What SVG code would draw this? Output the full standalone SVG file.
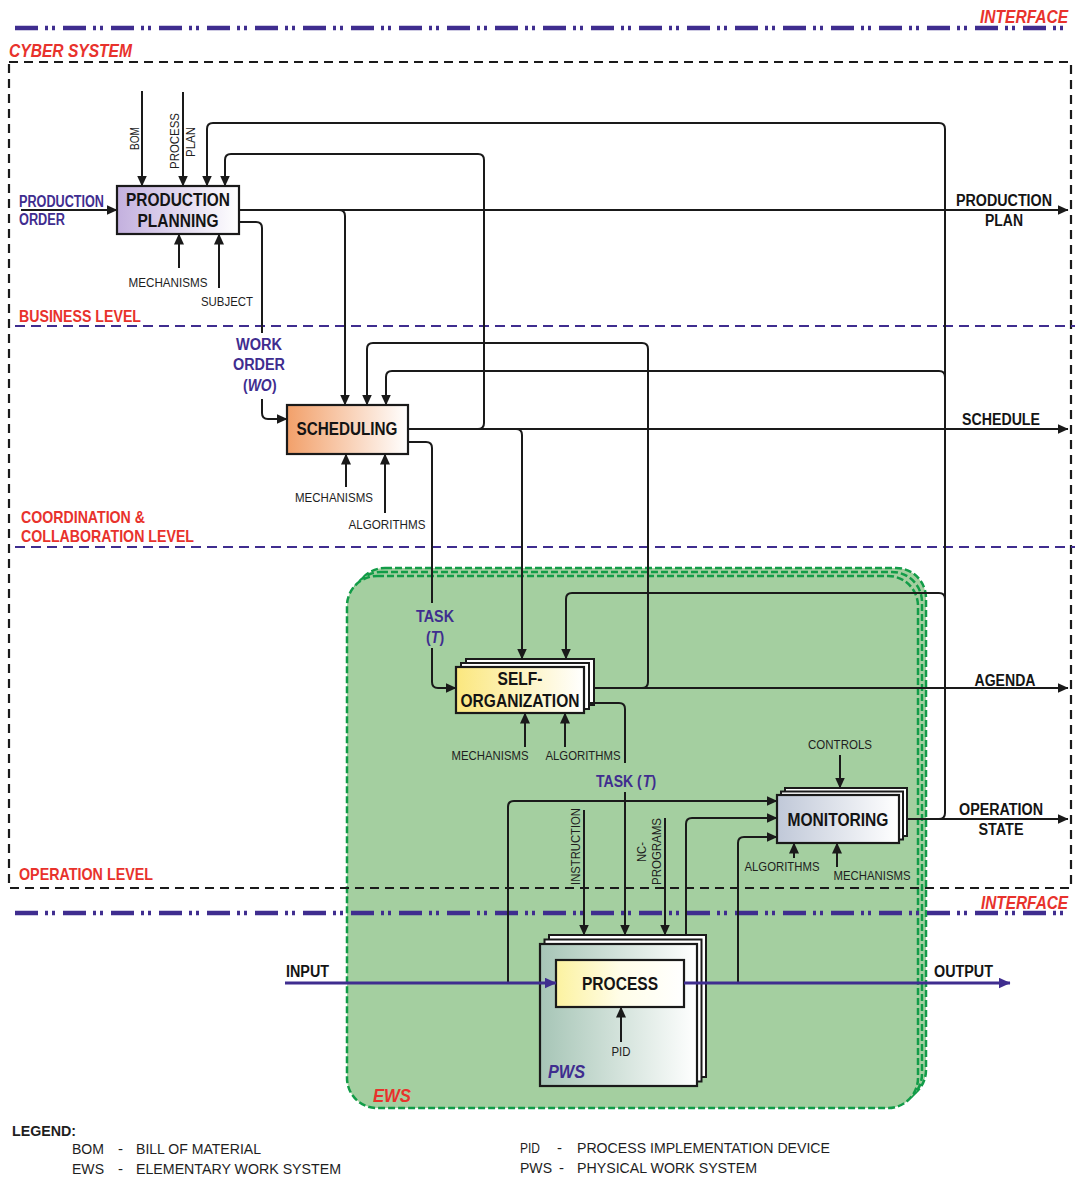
<svg xmlns="http://www.w3.org/2000/svg" width="1078" height="1177" viewBox="0 0 1078 1177">
<defs>
<linearGradient id="gPP" x1="0" x2="1" y1="0" y2="0"><stop offset="0" stop-color="#c3b0de"/><stop offset="1" stop-color="#ffffff"/></linearGradient>
<linearGradient id="gSC" x1="0" x2="1" y1="0" y2="0"><stop offset="0" stop-color="#f2a06a"/><stop offset="1" stop-color="#ffffff"/></linearGradient>
<linearGradient id="gSO" x1="0" x2="1" y1="0" y2="0"><stop offset="0" stop-color="#fbe77e"/><stop offset="1" stop-color="#ffffff"/></linearGradient>
<linearGradient id="gMO" x1="0" x2="1" y1="0" y2="0"><stop offset="0" stop-color="#c0c8d8"/><stop offset="1" stop-color="#ffffff"/></linearGradient>
<linearGradient id="gPW" x1="0" x2="1" y1="0" y2="0"><stop offset="0" stop-color="#a6c5b6"/><stop offset="1" stop-color="#ffffff"/></linearGradient>
<linearGradient id="gPR" x1="0" x2="1" y1="0" y2="0"><stop offset="0" stop-color="#fcf2a0"/><stop offset="0.5" stop-color="#fffde8"/><stop offset="1" stop-color="#ffffff"/></linearGradient>
<marker id="ah" markerUnits="userSpaceOnUse" markerWidth="11" markerHeight="10" viewBox="0 0 11 10" refX="10.5" refY="5" orient="auto"><path d="M0,0 L11,5 L0,10 Z" fill="#1a1a1a"/></marker>
<marker id="ahp" markerUnits="userSpaceOnUse" markerWidth="12" markerHeight="11" viewBox="0 0 12 11" refX="11.5" refY="5.5" orient="auto"><path d="M0,0 L12,5.5 L0,11 Z" fill="#3f2d8f"/></marker>
<style>
text{font-family:"Liberation Sans",Arial,Helvetica,sans-serif}
.bx{font-size:18px;font-weight:bold;fill:#141414}
.ol{font-size:16px;font-weight:bold;fill:#141414}
.sm{font-size:13px;fill:#1e1e1e}
.pu{font-size:16px;font-weight:bold;fill:#3f2d8f}
.it{font-style:italic}
.rd{font-weight:bold;fill:#e8322c}
.ri{font-style:italic;font-size:19px}
.lv{font-size:17px}
.lg{font-size:15px;fill:#1e1e1e}
.lgb{font-size:15px;font-weight:bold;fill:#1e1e1e}
.c{fill:none;stroke:#1a1a1a;stroke-width:2}
.ca{marker-end:url(#ah)}
.cp{fill:none;stroke:#3f2d8f;stroke-width:3;marker-end:url(#ahp)}
.nb{stroke:#1a1a1a;stroke-width:2.2}
.ly{fill:#fff;stroke:#1a1a1a;stroke-width:2}
.ews{fill:#a4cfa0;stroke:#129c48;stroke-width:2.5;stroke-dasharray:7 3}
.ifl{fill:none;stroke:#3f2d8f;stroke-width:4.5;stroke-dasharray:23 7 3 4 3 8}
.lvl{fill:none;stroke:#3f2d8f;stroke-width:2;stroke-dasharray:10 6}
.cyb{fill:none;stroke:#1a1a1a;stroke-width:2.2;stroke-dasharray:9 6}
</style>
</defs>

<!-- EWS container -->
<g id="ews">
<rect class="ews" x="355" y="568" width="571" height="532" rx="30"/>
<rect class="ews" x="351" y="572" width="571" height="532" rx="30"/>
<rect class="ews" x="347" y="576" width="571" height="532" rx="30"/>
</g>

<!-- system frames and level lines -->
<g id="frames">
<path class="ifl" d="M15,28 H1070"/>
<path class="ifl" d="M15,913 H1070"/>
<rect class="cyb" x="9" y="62" width="1062" height="826"/>
<path class="lvl" d="M15,326 H1075"/>
<path class="lvl" d="M15,547 H1075"/>
</g>

<!-- nodes -->
<g id="production-planning">
<rect class="nb" x="117" y="186" width="122" height="48" fill="url(#gPP)"/>
<text class="bx" x="178" y="206" text-anchor="middle" textLength="104" lengthAdjust="spacingAndGlyphs">PRODUCTION</text>
<text class="bx" x="178" y="227" text-anchor="middle" textLength="81" lengthAdjust="spacingAndGlyphs">PLANNING</text>
</g>

<g id="scheduling">
<rect class="nb" x="287" y="405" width="121" height="49" fill="url(#gSC)"/>
<text class="bx" x="347" y="435" text-anchor="middle" textLength="101" lengthAdjust="spacingAndGlyphs">SCHEDULING</text>
</g>

<g id="self-organization">
<rect class="ly" x="466" y="659" width="128" height="46"/>
<rect class="ly" x="461" y="663" width="128" height="46"/>
<rect class="nb" x="456" y="667" width="128" height="46" fill="url(#gSO)"/>
<text class="bx" x="520" y="685" text-anchor="middle" textLength="45" lengthAdjust="spacingAndGlyphs">SELF-</text>
<text class="bx" x="520" y="707" text-anchor="middle" textLength="119" lengthAdjust="spacingAndGlyphs">ORGANIZATION</text>
</g>

<g id="monitoring">
<rect class="ly" x="785" y="788" width="122" height="48"/>
<rect class="ly" x="781" y="791.5" width="122" height="48"/>
<rect class="nb" x="777" y="795" width="122" height="48" fill="url(#gMO)"/>
<text class="bx" x="838" y="826" text-anchor="middle" textLength="101" lengthAdjust="spacingAndGlyphs">MONITORING</text>
</g>

<g id="pws">
<rect class="ly" x="549" y="935" width="157" height="142"/>
<rect class="ly" x="544.5" y="939.5" width="157" height="142"/>
<rect class="nb" x="540" y="944" width="157" height="142" fill="url(#gPW)"/>
<text class="pu it" x="548" y="1078" style="font-size:18px" textLength="37" lengthAdjust="spacingAndGlyphs">PWS</text>
</g>

<g id="process">
<rect class="nb" x="556" y="960" width="128" height="47" fill="url(#gPR)"/>
<text class="bx" x="620" y="990" text-anchor="middle" textLength="76" lengthAdjust="spacingAndGlyphs">PROCESS</text>
</g>

<!-- connectors -->
<g id="connectors">
<path class="c ca" d="M142,91 V186"/>
<path class="c ca" d="M183,92 V186"/>
<path class="c ca" d="M21,210 H117"/>
<path class="c ca" d="M179,268 V234"/>
<path class="c ca" d="M219,288 V234"/>
<path class="c ca" d="M239,210 H1068"/>
<path class="c ca" d="M339,210 Q345,210 345,216 V405"/>
<path class="c" d="M239,222 H256 Q262,222 262,228 V333"/>
<path class="c ca" d="M262,399 V413 Q262,419 268,419 H287"/>
<path class="c ca" d="M907,819 H1068"/>
<path class="c ca" d="M939,819 Q945,819 945,813 V129 Q945,123 939,123 H213 Q207,123 207,129 V186"/>
<path class="c ca" d="M945,377 Q945,371 939,371 H392 Q386,371 386,377 V405"/>
<path class="c ca" d="M945,599 Q945,593 939,593 H572 Q566,593 566,599 V659"/>
<path class="c ca" d="M408,429 H1068"/>
<path class="c ca" d="M478,429 Q484,429 484,423 V160 Q484,154 478,154 H231 Q225,154 225,160 V186"/>
<path class="c ca" d="M516,429 Q522,429 522,435 V659"/>
<path class="c" d="M408,442 H426 Q432,442 432,448 V603"/>
<path class="c ca" d="M432,648 V682 Q432,688 438,688 H456"/>
<path class="c ca" d="M346,487 V454"/>
<path class="c ca" d="M385,513 V454"/>
<path class="c ca" d="M594,688 H1068"/>
<path class="c ca" d="M642,688 Q648,688 648,682 V349 Q648,343 642,343 H373 Q367,343 367,349 V405"/>
<path class="c" d="M589,703 H619 Q625,703 625,709 V763"/>
<path class="c ca" d="M625,792 V935"/>
<path class="c ca" d="M525,747 V713"/>
<path class="c ca" d="M565,747 V713"/>
<path class="c ca" d="M840,755 V788"/>
<path class="c ca" d="M794,858 V843"/>
<path class="c ca" d="M837,867 V843"/>
<path class="c ca" d="M508,983 V807 Q508,801 514,801 H777"/>
<path class="c ca" d="M686,935 V824 Q686,818 692,818 H777"/>
<path class="c ca" d="M738,983 V843 Q738,837 744,837 H777"/>
<path class="c ca" d="M584,810 V935"/>
<path class="c ca" d="M665,818 V935"/>
<path class="c ca" d="M621,1042 V1007"/>
<path class="cp" d="M285,983 H556"/>
<path class="cp" d="M684,983 H1010"/>
</g>

<!-- labels -->
<g id="labels">
<text class="rd ri" transform="translate(980,23) scale(0.82,1)">INTERFACE</text>
<text class="rd ri" x="9" y="57" textLength="123" lengthAdjust="spacingAndGlyphs">CYBER SYSTEM</text>
<text class="rd ri" transform="translate(981,909) scale(0.81,1)">INTERFACE</text>
<text class="rd lv" x="19" y="322" textLength="122" lengthAdjust="spacingAndGlyphs">BUSINESS LEVEL</text>
<text class="rd lv" x="21" y="523" textLength="124" lengthAdjust="spacingAndGlyphs">COORDINATION &amp;</text>
<text class="rd lv" x="21" y="542" textLength="173" lengthAdjust="spacingAndGlyphs">COLLABORATION LEVEL</text>
<text class="rd lv" x="19" y="880" textLength="134" lengthAdjust="spacingAndGlyphs">OPERATION LEVEL</text>

<text class="pu" x="19" y="207" textLength="85" lengthAdjust="spacingAndGlyphs">PRODUCTION</text>
<text class="pu" x="19" y="225" textLength="46" lengthAdjust="spacingAndGlyphs">ORDER</text>
<text class="pu" x="259" y="350" text-anchor="middle" textLength="46" lengthAdjust="spacingAndGlyphs">WORK</text>
<text class="pu" x="259" y="370" text-anchor="middle" textLength="52" lengthAdjust="spacingAndGlyphs">ORDER</text>
<g transform="translate(243,391) scale(0.87,1)">
<text class="pu" x="0" y="0">(</text>
<text class="pu it" x="5.4" y="0">WO</text>
<text class="pu" x="33.2" y="0">)</text>
</g>
<text class="pu" x="435" y="622" text-anchor="middle" textLength="38" lengthAdjust="spacingAndGlyphs">TASK</text>
<g transform="translate(426,643) scale(0.88,1)">
<text class="pu" x="0" y="0">(</text>
<text class="pu it" x="5.4" y="0">T</text>
<text class="pu" x="15.4" y="0">)</text>
</g>
<g transform="translate(596,787) scale(0.877,1)">
<text class="pu" x="0" y="0">TASK (</text>
<text class="pu it" x="53.4" y="0">T</text>
<text class="pu" x="63.4" y="0">)</text>
</g>
<text class="rd ri" x="373" y="1102" style="font-size:18px" textLength="38" lengthAdjust="spacingAndGlyphs">EWS</text>

<text class="ol" x="1004" y="206" text-anchor="middle" textLength="96" lengthAdjust="spacingAndGlyphs">PRODUCTION</text>
<text class="ol" x="1004" y="226" text-anchor="middle" textLength="38" lengthAdjust="spacingAndGlyphs">PLAN</text>
<text class="ol" x="1001" y="425" text-anchor="middle" textLength="78" lengthAdjust="spacingAndGlyphs">SCHEDULE</text>
<text class="ol" x="1005" y="686" text-anchor="middle" textLength="61" lengthAdjust="spacingAndGlyphs">AGENDA</text>
<text class="ol" x="1001" y="815" text-anchor="middle" textLength="84" lengthAdjust="spacingAndGlyphs">OPERATION</text>
<text class="ol" x="1001" y="835" text-anchor="middle" textLength="45" lengthAdjust="spacingAndGlyphs">STATE</text>
<text class="ol" x="286" y="977" textLength="43" lengthAdjust="spacingAndGlyphs">INPUT</text>
<text class="ol" x="934" y="977" textLength="59" lengthAdjust="spacingAndGlyphs">OUTPUT</text>

<text class="sm" x="139" y="138.5" transform="rotate(-90 139 138.5)" text-anchor="middle" textLength="23" lengthAdjust="spacingAndGlyphs">BOM</text>
<text class="sm" x="178.5" y="141" transform="rotate(-90 178.5 141)" text-anchor="middle" textLength="56" lengthAdjust="spacingAndGlyphs">PROCESS</text>
<text class="sm" x="194.5" y="142" transform="rotate(-90 194.5 142)" text-anchor="middle" textLength="30" lengthAdjust="spacingAndGlyphs">PLAN</text>
<text class="sm" x="168" y="287" text-anchor="middle" textLength="79" lengthAdjust="spacingAndGlyphs">MECHANISMS</text>
<text class="sm" x="227" y="306" text-anchor="middle" textLength="52" lengthAdjust="spacingAndGlyphs">SUBJECT</text>
<text class="sm" x="334" y="502" text-anchor="middle" textLength="78" lengthAdjust="spacingAndGlyphs">MECHANISMS</text>
<text class="sm" x="387" y="529" text-anchor="middle" textLength="77" lengthAdjust="spacingAndGlyphs">ALGORITHMS</text>
<text class="sm" x="490" y="760" text-anchor="middle" textLength="77" lengthAdjust="spacingAndGlyphs">MECHANISMS</text>
<text class="sm" x="583" y="760" text-anchor="middle" textLength="75" lengthAdjust="spacingAndGlyphs">ALGORITHMS</text>
<text class="sm" x="840" y="749" text-anchor="middle" textLength="64" lengthAdjust="spacingAndGlyphs">CONTROLS</text>
<text class="sm" x="782" y="871" text-anchor="middle" textLength="75" lengthAdjust="spacingAndGlyphs">ALGORITHMS</text>
<text class="sm" x="872" y="880" text-anchor="middle" textLength="77" lengthAdjust="spacingAndGlyphs">MECHANISMS</text>
<text class="sm" x="621" y="1056" text-anchor="middle" textLength="19" lengthAdjust="spacingAndGlyphs">PID</text>
<text class="sm" x="579.5" y="846.5" transform="rotate(-90 579.5 846.5)" text-anchor="middle" textLength="77" lengthAdjust="spacingAndGlyphs">INSTRUCTION</text>
<text class="sm" x="645.5" y="852" transform="rotate(-90 645.5 852)" text-anchor="middle" textLength="20" lengthAdjust="spacingAndGlyphs">NC-</text>
<text class="sm" x="660.5" y="851.5" transform="rotate(-90 660.5 851.5)" text-anchor="middle" textLength="67" lengthAdjust="spacingAndGlyphs">PROGRAMS</text>
</g>

<!-- legend -->
<g id="legend">
<text class="lgb" x="12" y="1136" textLength="64" lengthAdjust="spacingAndGlyphs">LEGEND:</text>
<text class="lg" x="72" y="1154" textLength="32" lengthAdjust="spacingAndGlyphs">BOM</text>
<text class="lg" x="118" y="1154">-</text>
<text class="lg" x="136" y="1154" textLength="125" lengthAdjust="spacingAndGlyphs">BILL OF MATERIAL</text>
<text class="lg" x="72" y="1174" textLength="32" lengthAdjust="spacingAndGlyphs">EWS</text>
<text class="lg" x="118" y="1174">-</text>
<text class="lg" x="136" y="1174" textLength="205" lengthAdjust="spacingAndGlyphs">ELEMENTARY WORK SYSTEM</text>
<text class="lg" x="520" y="1153" textLength="20" lengthAdjust="spacingAndGlyphs">PID</text>
<text class="lg" x="557" y="1153">-</text>
<text class="lg" x="577" y="1153" textLength="253" lengthAdjust="spacingAndGlyphs">PROCESS IMPLEMENTATION DEVICE</text>
<text class="lg" x="520" y="1173" textLength="32" lengthAdjust="spacingAndGlyphs">PWS</text>
<text class="lg" x="559" y="1173">-</text>
<text class="lg" x="577" y="1173" textLength="180" lengthAdjust="spacingAndGlyphs">PHYSICAL WORK SYSTEM</text>
</g>
</svg>
